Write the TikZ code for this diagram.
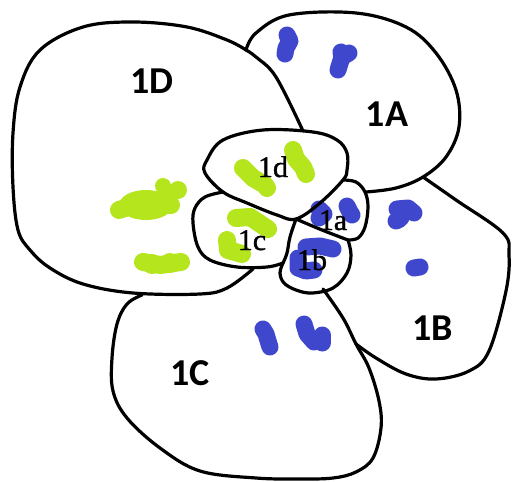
\documentclass[tikz,border=0pt]{standalone}
\usepackage{fontspec}
\setmainfont{Liberation Serif}
\newfontfamily\lblfont{Carlito}
\newfontfamily\smallfont{Liberation Serif}[FakeBold=1.2]
\definecolor{lime}{HTML}{B5E61D}
\definecolor{indigo}{HTML}{3F48CC}
\begin{document}
\begin{tikzpicture}[x=1pt,y=-1pt,
  outline/.style={line width=3.2pt,line cap=round,line join=round,black},
  gblob/.style={line width=18pt,line cap=round,line join=round,lime},
  bblob/.style={line width=17pt,line cap=round,line join=round,indigo},
  biglabel/.style={anchor=base,inner sep=0pt,font=\lblfont\bfseries\fontsize{38}{40}\selectfont},
  smalllabel/.style={anchor=base,inner sep=0pt,font=\smallfont\fontsize{30}{32}\selectfont}]
\useasboundingbox[fill=white] (0,0) rectangle (512,482);
% ---- blobs: green ----
\draw[gblob] (119,210) -- (140,203) -- (171,205);
\fill[lime] (146,205) ellipse (27pt and 15pt);
\fill[lime] (163,186) circle (8pt) (178,190) circle (9pt) (168,197) circle (8pt);
\draw[gblob] (143,262) -- (160,265) -- (181,262);
\fill[lime] (152,264) circle (10pt) (170,263) circle (10pt);
\draw[gblob] (293,150) -- (296,159) -- (303,167) -- (306,174);
\draw[gblob] (243,168) -- (253,178) -- (265,185) -- (267,188);
\draw[gblob] (236,218) -- (250,217) -- (262,225) -- (268,229);
\draw[gblob] (227,240) -- (228,250) -- (242,254);
% ---- blobs: blue ----
\draw[bblob] (287,35) -- (290,41) -- (286,48) -- (285,54);
\draw[bblob] (349,53) -- (342,57) -- (338,70);
\draw[bblob] (341,52) -- (342,58);
\draw[bblob] (263,329) -- (266,334) -- (269,344) -- (270,347);
\draw[bblob] (304,324) -- (307,334) -- (314,342);
\draw[bblob] (322,335) -- (322,343);
\draw[bblob] (397,209) -- (408,208) -- (414,213);
\draw[bblob] (405,211) -- (400,219) -- (396,221);
\draw[bblob] (414,268) -- (420,267);
\draw[bblob] (319,209) -- (324,214) -- (319,218);
\draw[bblob] (347,206) -- (350,212) -- (352,215);
\draw[bblob] (306,247) -- (320,246) -- (333,249);
\draw[bblob] (298,258) -- (298,268) -- (306,271) -- (314,270);
% ---- outlines ----
% 1D outer
\draw[outline] plot[smooth,tension=0.6] coordinates {(246,50) (227,40) (187,27) (133,22) (83,27) (40,50) (20,87) (13,133) (13,187) (18,230) (30,250) (50,268) (83,284) (133,293) (200,294) (227,288) (253,269)};
% 1D / 1A separator
\draw[outline] plot[smooth,tension=0.6] coordinates {(246,50) (256,57) (276,77) (303,131)};
% 1A outer
\draw[outline] plot[smooth,tension=0.6] coordinates {(246,50) (256,33) (289,15) (356,13) (406,27) (436,53) (456,90) (459,127) (446,157) (423,177) (396,188) (366,192)};
% 1B outer
\draw[outline] plot[smooth,tension=0.6] coordinates {(423,177) (456,200) (503,233) (509,255) (506,291) (489,351) (469,371) (436,379) (406,374) (376,358) (356,344)};
% 1b-down line and 1C outer
\draw[outline] plot[smooth,tension=0.6] coordinates {(323,289) (343,318) (356,344) (369,368) (379,401) (381,428) (373,458) (356,472) (333,478) (300,479) (256,478) (200,471) (160,448) (127,418) (113,391) (112,358) (117,324) (127,304) (142,295)};
% 1d
\draw[outline] plot[smooth cycle,tension=0.6] coordinates {(205,173) (207,160) (223,140) (263,130) (313,132) (337,140) (347,153) (347,170) (343,180) (320,203) (296,219) (277,215) (247,203) (223,192)};
% 1c
\draw[outline] plot[smooth,tension=0.6] coordinates {(223,192) (205,197) (195,208) (193,223) (198,247) (210,260) (237,267) (267,267) (283,263)};
% 1c / 1b shared
\draw[outline] plot[smooth,tension=0.6] coordinates {(296,219) (290,237) (287,253) (283,263)};
% 1b rest
\draw[outline] plot[smooth,tension=0.6] coordinates {(283,263) (280,273) (284,283) (296,290) (312,293) (333,288) (347,273) (351,255) (348,240)};
% 1a / 1b line
\draw[outline] plot[smooth,tension=0.6] coordinates {(296,219) (322,230) (348,240)};
% 1a right
\draw[outline] plot[smooth,tension=0.6] coordinates {(348,240) (358,238) (365,227) (368,207) (365,192) (356,182) (343,180)};
% ---- labels ----
\node[biglabel] (lD) at (152,93) {1D};
\node[biglabel] (lA) at (387,126) {1A};
\node[biglabel] (lB) at (433,340) {1B};
\node[biglabel] (lC) at (190,385) {1C};
\node[smalllabel] (ld) at (273,177) {1d};
\node[smalllabel] (lc) at (252,250) {1c};
\node[smalllabel] (la) at (333,230) {1a};
\node[smalllabel] (lb) at (312,270) {1b};
\end{tikzpicture}
\end{document}
